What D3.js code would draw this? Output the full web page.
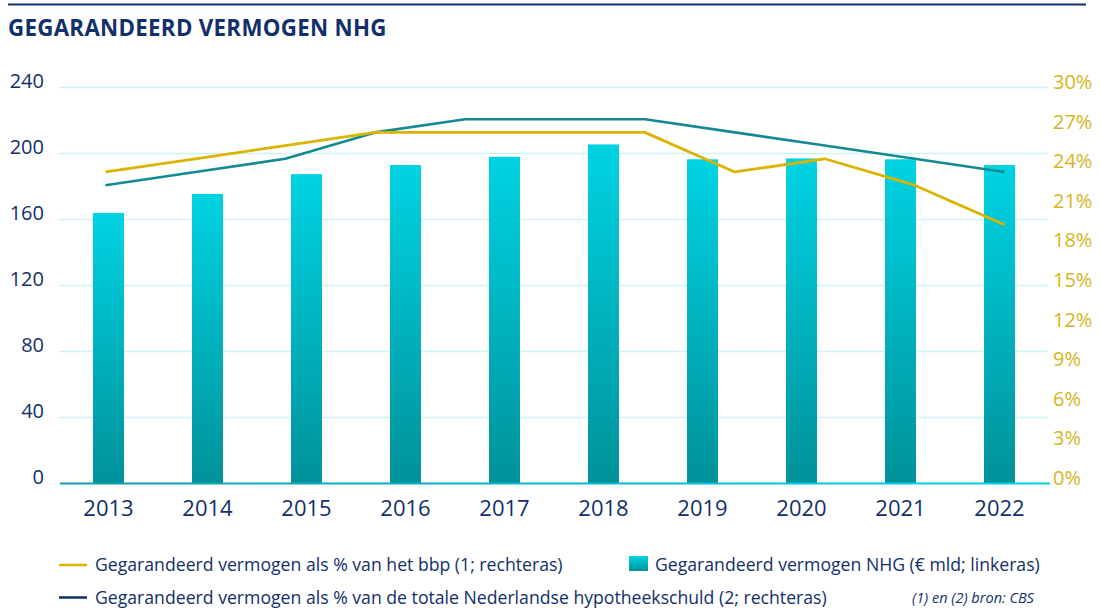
<!DOCTYPE html>
<html>
<head>
<meta charset="utf-8">
<script src="https://cdn.jsdelivr.net/npm/d3@7"></script>
<style>
  html, body { margin: 0; padding: 0; background: #ffffff; }
  svg { display: block; }
  text { font-family: "Open Sans", "Noto Sans", sans-serif; }
</style>
</head>
<body>
<svg id="chart" width="1101" height="608"></svg>
<script>
// ---------- data ----------
const years = ["2013", "2014", "2015", "2016", "2017", "2018", "2019", "2020", "2021", "2022"];
const nhgValues = [164, 175.5, 187.5, 193, 198, 205.5, 196.5, 197, 196.5, 193];   // € mld, left axis
const lineSteps = [0, 1, 2, 3, 4, 5, 6, 7, 8, 9, 10];
const bbpPct = [23.6, 24.6, 25.6, 26.6, 26.6, 26.6, 26.6, 23.6, 24.6, 22.6, 19.6];   // right axis
const hypPct = [22.6, 23.6, 24.6, 26.6, 27.6, 27.6, 27.6, 26.6, 25.6, 24.6, 23.6];   // right axis
const leftTicks = [0, 40, 80, 120, 160, 200, 240];
const rightTicks = [0, 3, 6, 9, 12, 15, 18, 21, 24, 27, 30];
const rightTickLabels = ["0%", "3%", "6%", "9%", "12%", "15%", "18%", "21%", "24%", "27%", "30%"];
const titleText = "GEGARANDEERD VERMOGEN NHG";
const legendBbp = "Gegarandeerd vermogen als % van het bbp (1; rechteras)";
const legendHyp = "Gegarandeerd vermogen als % van de totale Nederlandse hypotheekschuld (2; rechteras)";
const legendNhg = "Gegarandeerd vermogen NHG (€ mld; linkeras)";
const sourceNote = "(1) en (2) bron: CBS";

// ---------- styles ----------
const navy = "#12306b";
const gold = "#dab400";
const goldText = "#d8b41c";
const teal = "#138a92";
const gridCol = "#cdf3f7";

const svg = d3.select("#chart");
const defs = svg.append("defs");

const barGrad = defs.append("linearGradient").attr("id", "barGrad")
  .attr("x1", 0).attr("y1", 0).attr("x2", 0).attr("y2", 1);
barGrad.append("stop").attr("offset", "0%").attr("stop-color", "#00d3e3");
barGrad.append("stop").attr("offset", "100%").attr("stop-color", "#00929a");

const baseGrad = defs.append("linearGradient").attr("id", "baseGrad")
  .attr("x1", 0).attr("y1", 0).attr("x2", 1).attr("y2", 0);
baseGrad.append("stop").attr("offset", "0%").attr("stop-color", "#139ea7");
baseGrad.append("stop").attr("offset", "100%").attr("stop-color", "#00d2e6");

// ---------- scales ----------
const x = d3.scaleBand().domain(years).range([59, 1049]).paddingInner(0.687).paddingOuter(0.3435);
const xLine = d3.scalePoint().domain(lineSteps).range([105.5, 1004.5]);
const yLeft = d3.scaleLinear().domain([0, 240]).range([483.5, 87.5]);
const yRight = d3.scaleLinear().domain([0, 30]).range([483.5, 87.5]);

// ---------- top rule + title ----------
svg.append("line").attr("x1", 8).attr("x2", 1086).attr("y1", 4.5).attr("y2", 4.5)
  .attr("stroke", navy).attr("stroke-width", 2);

function fitText(sel, target) {
  const w = sel.node().getComputedTextLength();
  const fs = parseFloat(sel.attr("font-size"));
  sel.attr("font-size", (fs * target / w).toFixed(2));
}

const title = svg.append("text").attr("x", 8).attr("y", 36)
  .attr("font-size", 22).attr("font-weight", 700).attr("fill", navy)
  .attr("font-family", 'Roboto, "Open Sans", sans-serif')
  .attr("letter-spacing", 0.3)
  .text(titleText);
fitText(title, 379);

// ---------- gridlines ----------
svg.append("g").selectAll("line").data(leftTicks.filter(d => d > 0)).join("line")
  .attr("x1", 59).attr("x2", 1048)
  .attr("y1", d => yLeft(d)).attr("y2", d => yLeft(d))
  .attr("stroke", gridCol).attr("stroke-width", 1.5);

// ---------- bars ----------
svg.append("g").selectAll("rect").data(years).join("rect")
  .attr("x", d => x(d))
  .attr("width", x.bandwidth())
  .attr("y", (d, i) => yLeft(nhgValues[i]))
  .attr("height", (d, i) => yLeft(0) - yLeft(nhgValues[i]))
  .attr("fill", "url(#barGrad)");

// baseline
svg.append("rect").attr("x", 60).attr("y", yLeft(0) - 1).attr("width", 990).attr("height", 2)
  .attr("fill", "url(#baseGrad)");

// ---------- lines ----------
const lineGen = arr => d3.line().x((d, i) => xLine(lineSteps[i])).y(d => yRight(d))(arr);
svg.append("path").attr("d", lineGen(hypPct)).attr("fill", "none")
  .attr("stroke", teal).attr("stroke-width", 2.6).attr("stroke-linejoin", "round");
svg.append("path").attr("d", lineGen(bbpPct)).attr("fill", "none")
  .attr("stroke", gold).attr("stroke-width", 2.8).attr("stroke-linejoin", "round");

// ---------- axes ----------
const leftAxis = d3.axisLeft(yLeft).tickValues(leftTicks).tickSize(0).tickPadding(0);
const gL = svg.append("g").attr("transform", "translate(44,0)").call(leftAxis);
gL.select(".domain").remove();
gL.selectAll("text").attr("font-size", 20).attr("fill", navy)
  .attr("font-family", '"Open Sans", sans-serif').attr("dy", "0").attr("y", 0);

const rightAxis = d3.axisRight(yRight).tickValues(rightTicks)
  .tickFormat((d, i) => rightTickLabels[i]).tickSize(0).tickPadding(0);
const gR = svg.append("g").attr("transform", "translate(1053,0)").call(rightAxis);
gR.select(".domain").remove();
gR.selectAll("text").attr("font-size", 20).attr("fill", goldText)
  .attr("font-family", '"Open Sans", sans-serif').attr("dy", "0").attr("y", 1);

const bottomAxis = d3.axisBottom(x).tickSize(0).tickPadding(0);
const gB = svg.append("g").attr("transform", "translate(0,0)").call(bottomAxis);
gB.select(".domain").remove();
gB.selectAll("text").attr("font-size", 22).attr("fill", navy)
  .attr("font-family", '"Open Sans", sans-serif').attr("dy", "0").attr("y", 515.5);

// ---------- legend ----------
const lg = svg.append("g");
lg.append("line").attr("x1", 59).attr("x2", 87).attr("y1", 565).attr("y2", 565)
  .attr("stroke", gold).attr("stroke-width", 2.5);
lg.append("line").attr("x1", 59).attr("x2", 87).attr("y1", 597.5).attr("y2", 597.5)
  .attr("stroke", navy).attr("stroke-width", 2.5);
const t2 = lg.append("text").attr("x", 95).attr("y", 603.5).attr("font-size", 17).attr("fill", navy).text(legendHyp);
fitText(t2, 732);
const fsLegend = t2.attr("font-size");
lg.append("text").attr("x", 95).attr("y", 571).attr("font-size", fsLegend).attr("fill", navy).text(legendBbp);
lg.append("rect").attr("x", 629).attr("y", 556).attr("width", 19).attr("height", 15).attr("fill", "url(#barGrad)");
lg.append("text").attr("x", 655).attr("y", 571).attr("font-size", fsLegend).attr("fill", navy).text(legendNhg);
const note = lg.append("text").attr("x", 912).attr("y", 602.5).attr("font-size", 13)
  .attr("font-style", "italic").attr("fill", navy).text(sourceNote);
fitText(note, 122);
</script>
</body>
</html>
